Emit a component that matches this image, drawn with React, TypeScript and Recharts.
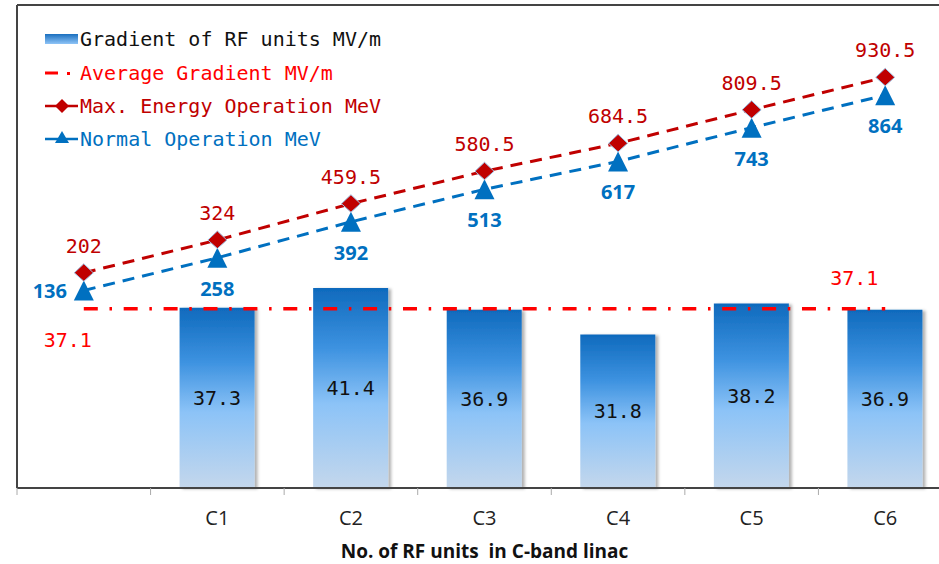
import { ComposedChart, Bar, Line, XAxis, YAxis, LabelList, Label } from 'recharts';

const categories = ['', 'C1', 'C2', 'C3', 'C4', 'C5', 'C6'];
const gradientValues = [null, 37.3, 41.4, 36.9, 31.8, 38.2, 36.9];
const averageGradient = [37.1, 37.1, 37.1, 37.1, 37.1, 37.1, 37.1];
const maxEnergy = [202, 324, 459.5, 580.5, 684.5, 809.5, 930.5];
const normalEnergy = [136, 258, 392, 513, 617, 743, 864];

const data = categories.map((cat, i) => ({
  cat,
  gradient: gradientValues[i],
  avg: averageGradient[i],
  max: maxEnergy[i],
  normal: normalEnergy[i],
}));

const MONO = '"DejaVu Sans Mono", "Liberation Mono", monospace';
const NARROW = '"Liberation Sans Narrow", "Open Sans", sans-serif';
const DARK_RED = '#C00000';
const RED = '#FF0000';
const BLUE = '#0070C0';

const PLOT_LEFT = 17;
const PLOT_WIDTH = 935;
const PLOT_BOTTOM = 488;
const BAND = PLOT_WIDTH / categories.length;

// x-axis tick: category label plus a small tick mark at the left band edge
const CategoryTick = ({ x, payload }: any) => (
  <g>
    <line x1={x - BAND / 2} y1={PLOT_BOTTOM} x2={x - BAND / 2} y2={PLOT_BOTTOM + 7} stroke="#aaa" strokeWidth={1} />
    <text x={x} y={PLOT_BOTTOM + 37} textAnchor="middle" fill="#222" fontSize={20} fontFamily={NARROW}>
      {payload.value}
    </text>
  </g>
);

const Diamond = ({ cx, cy, index }: any) => (
  <polygon
    key={`d-${index}`}
    points={`${cx},${cy - 9} ${cx + 9.5},${cy} ${cx},${cy + 8.5} ${cx - 9.5},${cy}`}
    fill={DARK_RED}
    stroke="#9DC3E6"
    strokeWidth={1}
  />
);

const Triangle = ({ cx, cy, index }: any) => (
  <polygon key={`t-${index}`} points={`${cx},${cy - 10} ${cx + 10},${cy + 10} ${cx - 10},${cy + 10}`} fill={BLUE} />
);

const maxLabel = ({ x, y, value }: any) => (
  <text x={x} y={y - 20} textAnchor="middle" fill={DARK_RED} fontSize={20} fontFamily={MONO}>
    {value}
  </text>
);

const normalLabel = ({ x, y, value, index }: any) => {
  const first = index === 0;
  return (
    <text
      x={first ? x - 34 : x}
      y={first ? y + 7 : y + 38}
      textAnchor="middle"
      fill={BLUE}
      fontSize={20}
      fontWeight="bold"
      fontFamily='"Open Sans", sans-serif'
    >
      {value}
    </text>
  );
};

const avgLabel = ({ x, y, value, index }: any) => {
  if (index !== 0 && index !== categories.length - 1) return null;
  const first = index === 0;
  return (
    <text
      x={first ? x - 16 : x - 31}
      y={first ? y + 38 : y - 24}
      textAnchor="middle"
      fill={RED}
      fontSize={20}
      fontFamily={MONO}
    >
      {value}
    </text>
  );
};

function LegendOverlay() {
  const textProps = { fontSize: 20, fontFamily: MONO };
  return (
    <svg width={400} height={160} style={{ position: 'absolute', left: 0, top: 0, pointerEvents: 'none' }}>
      <defs>
        <linearGradient id="legendGrad" x1="0" y1="0" x2="0" y2="1">
          <stop offset="0%" stopColor="#1A6FBF" />
          <stop offset="100%" stopColor="#8FC4F7" />
        </linearGradient>
      </defs>
      <rect x={45} y={34} width={33} height={10} fill="url(#legendGrad)" />
      <text x={80} y={46} fill="#111" {...textProps}>Gradient of RF units MV/m</text>

      <line x1={45} y1={73} x2={58} y2={73} stroke={RED} strokeWidth={3} />
      <rect x={67} y={72} width={3} height={3} fill={RED} />
      <text x={80} y={80} fill={RED} {...textProps}>Average Gradient MV/m</text>

      <line x1={45} y1={106} x2={78} y2={106} stroke={DARK_RED} strokeWidth={2.5} />
      <polygon points="62,99 69,106 62,113 55,106" fill={DARK_RED} />
      <text x={80} y={113} fill={DARK_RED} {...textProps}>Max. Energy Operation MeV</text>

      <line x1={45} y1={139} x2={78} y2={139} stroke={BLUE} strokeWidth={2.5} />
      <polygon points="62,131 69,143 55,143" fill={BLUE} />
      <text x={80} y={146} fill={BLUE} {...textProps}>Normal Operation MeV</text>
    </svg>
  );
}

export default function App() {
  return (
    <div style={{ position: 'absolute', left: 0, top: 0, width: 939, height: 564, overflow: 'hidden', background: '#fff' }}>
      <ComposedChart
        width={PLOT_LEFT + PLOT_WIDTH + 18}
        height={564}
        data={data}
        margin={{ top: 4, right: 18, bottom: 0, left: PLOT_LEFT - 1 }}
      >
        <defs>
          <linearGradient id="barGrad" x1="0" y1="0" x2="0" y2="1">
            <stop offset="0%" stopColor="#0F6ABD" />
            <stop offset="30%" stopColor="#3D92E0" />
            <stop offset="58%" stopColor="#8CC3F7" />
            <stop offset="100%" stopColor="#C4D7EC" />
          </linearGradient>
          <filter id="barShadow" x="-10%" y="-5%" width="130%" height="110%">
            <feDropShadow dx={3} dy={1} stdDeviation={1.5} floodColor="#000" floodOpacity={0.3} />
          </filter>
        </defs>
        <XAxis
          dataKey="cat"
          xAxisId="x"
          height={76}
          axisLine={{ stroke: '#444', strokeWidth: 2 }}
          tickLine={false}
          tick={<CategoryTick />}
          interval={0}
        >
          <Label
            value={'No. of RF units\u00A0\u00A0in C-band linac'}
            position="insideBottom"
            offset={6}
            fill="#111"
            fontSize={19}
            fontWeight="bold"
            fontFamily={NARROW}
          />
        </XAxis>
        <XAxis
          dataKey="cat"
          xAxisId="top"
          orientation="top"
          height={1}
          tick={false}
          tickLine={false}
          axisLine={{ stroke: '#444', strokeWidth: 2 }}
        />
        <YAxis
          yAxisId="g"
          domain={[0, 100]}
          width={1}
          tick={false}
          tickLine={false}
          axisLine={{ stroke: '#444', strokeWidth: 2 }}
        />
        <YAxis yAxisId="e" orientation="right" domain={[-600, 1200]} hide />

        <Bar dataKey="gradient" xAxisId="x" yAxisId="g" barSize={75} fill="url(#barGrad)" filter="url(#barShadow)" isAnimationActive={false}>
          <LabelList dataKey="gradient" position="center" fill="#111" fontSize={20} fontFamily={MONO} />
        </Bar>
        <Line
          dataKey="avg"
          xAxisId="x"
          yAxisId="g"
          stroke={RED}
          strokeWidth={3.5}
          strokeDasharray="14 11.7 2.5 11.7"
          dot={false}
          activeDot={false}
          isAnimationActive={false}
        >
          <LabelList dataKey="avg" content={avgLabel} />
        </Line>
        <Line
          dataKey="normal"
          xAxisId="x"
          yAxisId="e"
          stroke={BLUE}
          strokeWidth={3}
          strokeDasharray="12 8"
          dot={Triangle}
          activeDot={false}
          isAnimationActive={false}
        >
          <LabelList dataKey="normal" content={normalLabel} />
        </Line>
        <Line
          dataKey="max"
          xAxisId="x"
          yAxisId="e"
          stroke={DARK_RED}
          strokeWidth={3}
          strokeDasharray="12 8"
          dot={Diamond}
          activeDot={false}
          isAnimationActive={false}
        >
          <LabelList dataKey="max" content={maxLabel} />
        </Line>
      </ComposedChart>
      <LegendOverlay />
    </div>
  );
}
